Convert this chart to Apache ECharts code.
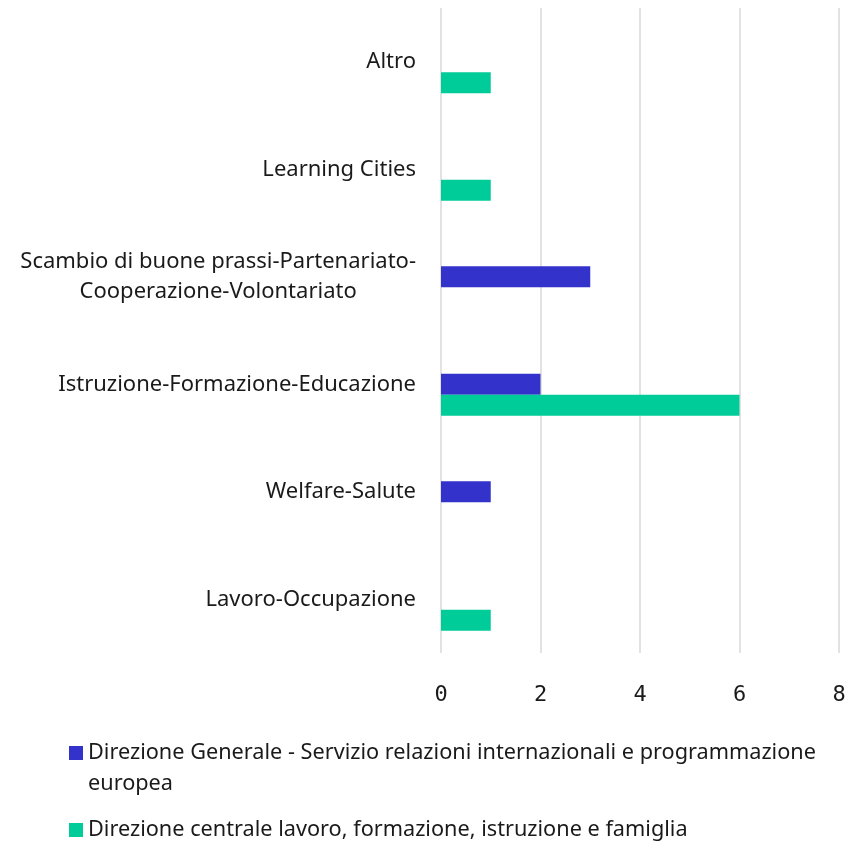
<!DOCTYPE html>
<html>
<head>
<meta charset="utf-8">
<script src="https://cdn.jsdelivr.net/npm/echarts@6/dist/echarts.min.js"></script>
<style>
  html, body { margin: 0; padding: 0; background: #fff; }
  #chart { width: 862px; height: 844px; }
</style>
</head>
<body>
<div id="chart"></div>
<script>
  // categories bottom -> top (category axis runs upward)
  const categories = [
    "Lavoro-Occupazione",
    "Welfare-Salute",
    "Istruzione-Formazione-Educazione",
    "Scambio di buone prassi-Partenariato-\nCooperazione-Volontariato",
    "Learning Cities",
    "Altro"
  ];
  const seriesNames = [
    "Direzione Generale - Servizio relazioni internazionali e programmazione",
    "Direzione centrale lavoro, formazione, istruzione e famiglia"
  ];
  const dgValues = [0, 1, 2, 3, 0, 0];
  const dcValues = [1, 0, 6, 0, 1, 1];
  const xTicks = { min: 0, max: 8, interval: 2 };

  const C = { blue: "#3333cc", green: "#00cc99", grid: "#d9d9d9", text: "#1a1a1a" };
  const FONT = "Noto Sans";
  const FS = 22;
  const FS_LEG = 21.7;

  const legendStyle = {
    left: 64, icon: "rect", itemWidth: 14, itemHeight: 14, itemGap: 6, selectedMode: false,
    textStyle: { color: C.text, fontFamily: FONT, fontSize: FS_LEG, lineHeight: 26 }
  };

  const chart = echarts.init(document.getElementById("chart"), null, { renderer: "canvas" });
  chart.setOption({
    animation: false,
    grid: { left: 441, right: 23, top: 8, bottom: 191 },
    xAxis: {
      type: "value", ...xTicks,
      axisLine: { show: false }, axisTick: { show: false },
      splitLine: { lineStyle: { color: C.grid, width: 1.5 } },
      axisLabel: { color: C.text, fontFamily: "DejaVu Sans Mono", fontSize: FS, margin: 31 }
    },
    yAxis: {
      type: "category", data: categories,
      axisLine: { show: false }, axisTick: { show: false },
      axisLabel: {
        margin: 25,
        formatter: (v) => v.split("\n").map(s => `{c|${s}}`).join("\n"),
        rich: { c: { color: C.text, fontFamily: FONT, fontSize: FS, lineHeight: 30, align: "center" } }
      }
    },
    legend: [
      { ...legendStyle, data: [seriesNames[0]], top: 735 },
      { ...legendStyle, data: [seriesNames[1]], top: 812 }
    ],
    graphic: [{
      type: "text", left: 88, top: 773,
      style: { text: "europea", fill: C.text, font: `${FS_LEG}px "${FONT}"` }
    }],
    series: [
      // empty slot above the two drawn series, as in the source layout
      { name: "_slot", type: "bar", data: [], barWidth: 21, barGap: "0%" },
      { name: seriesNames[0], type: "bar", data: dgValues, barWidth: 21, barGap: "0%", itemStyle: { color: C.blue } },
      { name: seriesNames[1], type: "bar", data: dcValues, barWidth: 21, barGap: "0%", itemStyle: { color: C.green } }
    ]
  });
  window.addEventListener("resize", () => chart.resize());
</script>
</body>
</html>
